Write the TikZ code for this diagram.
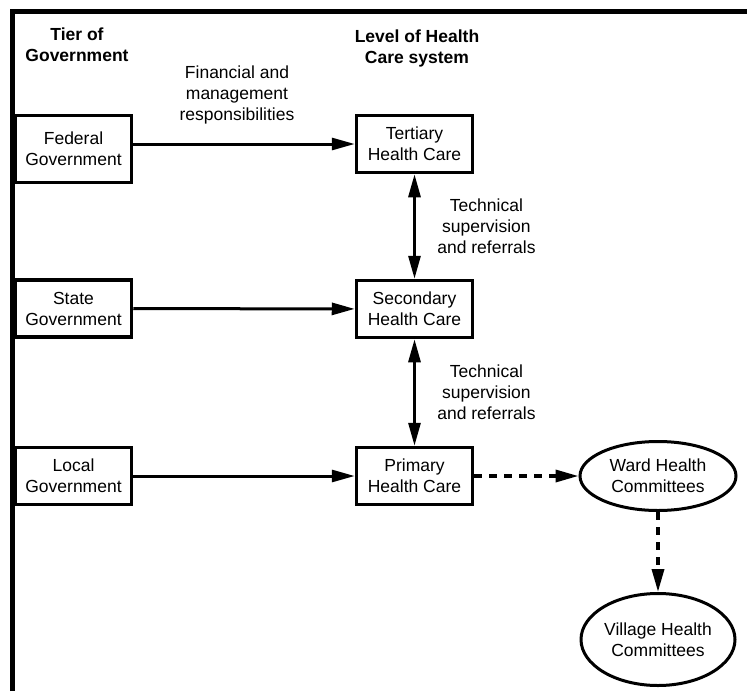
\documentclass[tikz,border=0pt]{standalone}
\usepackage{fontspec}
\setmainfont{Liberation Sans}
\usetikzlibrary{arrows.meta,shapes.geometric}
\def\hcfont{\fontsize{17.5}{21}\selectfont}
\tikzset{
  hctip/.tip={Triangle[length=23pt,width=12pt]},
  hcbox/.style={draw, line width=3.5pt, align=center, minimum width=116pt, inner sep=2pt},
  hcoval/.style={draw, ellipse, line width=3pt, align=center, inner sep=0pt},
  hcarrow/.style={line width=3pt, -hctip},
  hcboth/.style={line width=3pt, hctip-hctip},
  hcdash/.style={hcarrow, line width=3.5pt, dash pattern=on 8pt off 7pt},
  hdtext/.style={align=center, font=\hcfont\bfseries}
}
\def\hcnode(#1,#2,#3,#4,#5){
  \node[hcbox, minimum height=#4] (#1) at (#2,#3) {#5};
}

\begin{document}
\begin{tikzpicture}[x=1pt, y=-1pt, font=\hcfont]
\useasboundingbox (0,0) rectangle (747,691);
\draw[line width=5pt] (12,691) -- (12,11.5) -- (747,11.5);
\node[hdtext] (tier_hd) at (77,45) {Tier of\\Government};
\node[hdtext] (level_hd) at (417,48) {Level of Health\\Care system};
\node[align=center] (fin_lbl) at (237,95) {Financial and\\management\\responsibilities};
\hcnode(fed,73.5,149,67pt,Federal\\Government)
\hcnode(state,73.5,308.5,57pt,State\\Government)
\hcnode(local,73.5,476,57pt,Local\\Government)
\hcnode(ter,414.5,144,57pt,Tertiary\\Health Care)
\hcnode(sec,414.5,309,57pt,Secondary\\Health Care)
\hcnode(pri,414.5,476,57pt,Primary\\Health Care)
\node[hcoval, minimum width=156pt, minimum height=69pt] (ward) at (658,476) {Ward Health\\Committees};
\node[hcoval, minimum width=154pt, minimum height=92pt] (village) at (658,639.5) {Village Health\\Committees};
\draw[hcarrow] (fed.east |- ter.west) -- (ter.west);
\draw[hcarrow] (state) -- (sec);
\draw[hcarrow] (local) -- (pri);
\draw[hcboth] (ter) -- (sec) node[midway, right=18pt, align=center] (tech_a) {Technical\\supervision\\and referrals};
\draw[hcboth] (sec) -- (pri) node[midway, right=18pt, align=center] (tech_b) {Technical\\supervision\\and referrals};
\draw[hcdash] (pri) -- (ward);
\draw[hcdash] (ward) -- (village);
\end{tikzpicture}
\end{document}
